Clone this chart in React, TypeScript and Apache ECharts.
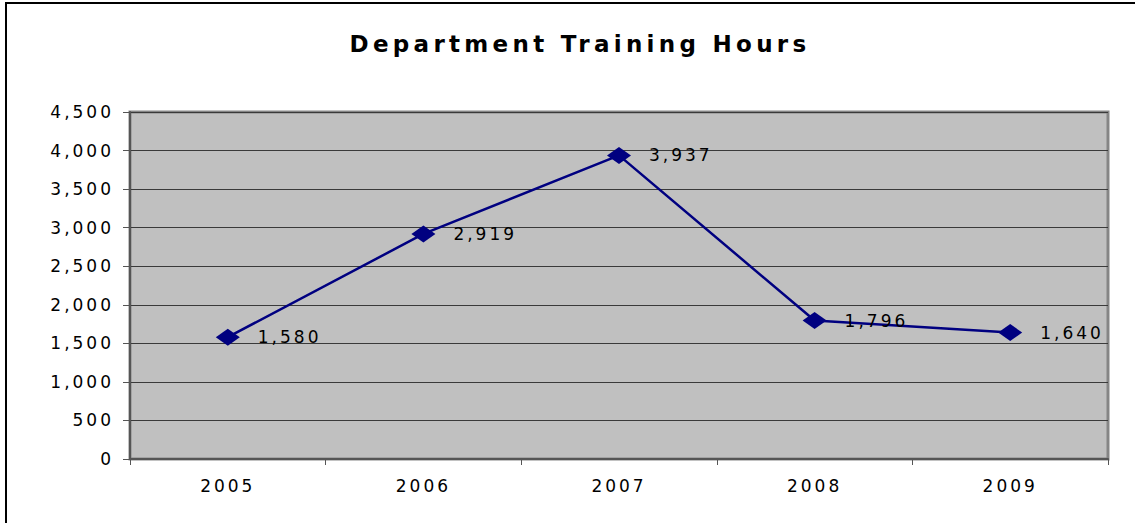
import React, { useEffect, useRef } from "react";
import * as echarts from "echarts";

const categories = ["2005", "2006", "2007", "2008", "2009"];
const hours = [1580, 2919, 3937, 1796, 1640];
const titleText = "Department Training Hours";

export default function App() {
  const ref = useRef<HTMLDivElement>(null);
  useEffect(() => {
    if (!ref.current) return;
    const chart = echarts.init(ref.current, null, { renderer: "svg" });
    chart.setOption({
      animation: false,
      backgroundColor: "#ffffff",
      title: {
        text: titleText,
        left: 575,
        textAlign: "center",
        top: 27,
        textStyle: { fontFamily: "DejaVu Sans", fontWeight: "bold", fontSize: 23, color: "#000" },
      },
      graphic: [
        {
          type: "rect",
          shape: { x: 6, y: 3, width: 1200, height: 560 },
          style: { fill: "none", stroke: "#000", lineWidth: 2 },
          silent: true,
        },
      ],
      grid: {
        left: 130,
        top: 112,
        right: 1135 - 1108,
        bottom: 523 - 459,
        show: true,
        backgroundColor: "#c0c0c0",
        borderColor: "#858585",
        borderWidth: 3,
      },
      xAxis: {
        type: "category",
        data: categories,
        boundaryGap: true,
        axisLine: { show: true, lineStyle: { color: "#555", width: 2 } },
        axisTick: { show: true, alignWithLabel: false, length: 6, lineStyle: { color: "#555" } },
        axisLabel: { fontFamily: "DejaVu Sans", fontSize: 17, color: "#000", margin: 18 },
        splitLine: { show: false },
      },
      yAxis: {
        type: "value",
        min: 0,
        max: 4500,
        interval: 500,
        axisLine: { show: true, lineStyle: { color: "#555", width: 2 } },
        axisTick: { show: true, length: 7, lineStyle: { color: "#555" } },
        axisLabel: {
          fontFamily: "DejaVu Sans",
          fontSize: 17,
          color: "#000",
          margin: 16,
          formatter: (v: number) => v.toLocaleString("en-US"),
        },
        splitLine: { show: true, lineStyle: { color: "#3a3a3a", width: 1 } },
      },
      series: [
        {
          type: "line",
          data: hours,
          symbol: "diamond",
          symbolSize: [24, 17],
          lineStyle: { color: "#000080", width: 2.5 },
          itemStyle: { color: "#000080" },
          label: {
            show: true,
            position: "right",
            distance: 18,
            fontFamily: "DejaVu Sans",
            fontSize: 17,
            color: "#000",
            formatter: (p: any) => Number(p.value).toLocaleString("en-US"),
          },
        },
      ],
    });
    return () => chart.dispose();
  }, []);
  return (
    <>
      <style>{"svg text { letter-spacing: 3px; } svg text[style*='bold'] { letter-spacing: 4.3px; }"}</style>
      <div
        ref={ref}
        style={{ position: "fixed", left: 0, top: 0, width: 1135, height: 523 }}
      />
    </>
  );
}
